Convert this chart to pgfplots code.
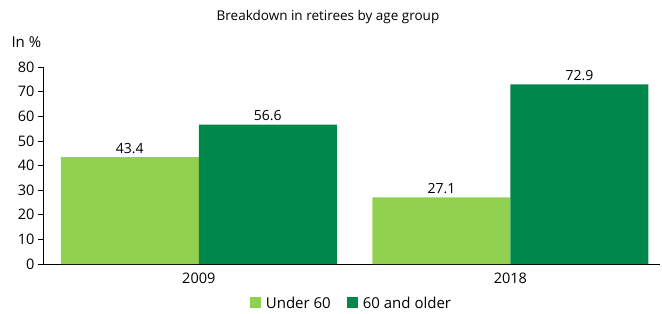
\documentclass[border=0pt]{standalone}
\usepackage{pgfplots}
\pgfplotsset{compat=1.18}
\usepackage{fontspec}
\setmainfont{Open Sans}
\definecolor{lightg}{HTML}{92D050}
\definecolor{darkg}{HTML}{00884B}
\begin{document}
\begin{tikzpicture}
\useasboundingbox (-43bp,-50bp) rectangle (619bp,264bp);
\begin{axis}[
  scale only axis,
  width=617bp, height=197bp,
  at={(0,0)}, anchor=south west,
  ybar=0pt, bar width=138bp,
  xmin=-0.5, xmax=1.48,
  ymin=0, ymax=80,
  ytick={0,10,...,80},
  xtick=data, xticklabels={2009,2018},
  major x tick style={draw=none},
  ytick style={black, line width=0.6pt},
  tick align=outside,
  major tick length=5bp,
  axis x line*=bottom,
  axis y line*=left,
  axis line style={black, line width=0.8pt, -},
  tick label style={font=\fontsize{14.5bp}{16bp}\selectfont},
  /pgf/number format/assume math mode=true,
  nodes near coords,
  nodes near coords style={font=\fontsize{14bp}{16bp}\selectfont, black},
  /pgf/number format/.cd, fixed, fixed zerofill, precision=1,
  /pgfplots/.cd,
  yticklabel={\pgfmathprintnumber[fixed, precision=0]{\tick}},
  legend style={at={(0.5,-0.145)}, anchor=north, draw=none, legend columns=2,
    font=\fontsize{15bp}{16bp}\selectfont,
    /tikz/every even column/.append style={column sep=14bp}},
  legend image code/.code={\fill[#1] (0bp,-5bp) rectangle (11bp,6bp);},
  legend cell align=left,
  clip=false,
]
\addplot[fill=lightg, draw=none] coordinates {(0,43.4) (1,27.1)};
\addplot[fill=darkg, draw=none] coordinates {(0,56.6) (1,72.9)};
\legend{\hspace{3bp}Under 60, \hspace{3bp}60 and older}
\end{axis}
\node[font=\fontsize{13.5bp}{16bp}\selectfont] at (285bp,247bp) {Breakdown in retirees by age group};
\node[font=\fontsize{15bp}{16bp}\selectfont, anchor=west] at (-35bp,222bp) {In \%};
\end{tikzpicture}
\end{document}
